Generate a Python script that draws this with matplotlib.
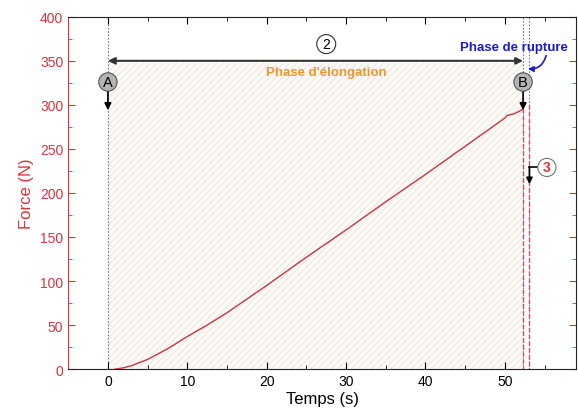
import numpy as np
import matplotlib.pyplot as plt
from matplotlib.ticker import MultipleLocator

# courbe force - temps
temps = [0.9, 2, 3, 5, 7.5, 10, 12.5, 15, 20, 25, 30, 35, 40, 45, 50, 50.3, 51.2, 52.3]
force = [0, 1.5, 4, 11, 23, 37, 50, 64, 95, 127, 158, 190, 221, 253, 285, 288, 290, 295]

t_a = 0.0      # point A
t_b = 52.3     # point B (rupture)
t_fin = 53.0   # fin de la phase de rupture
f_fleche = 350

rouge = '#d9343c'
plt.rcParams['font.family'] = ['Liberation Sans', 'DejaVu Sans']
plt.rcParams['hatch.linewidth'] = 0.7

fig = plt.figure(figsize=(5.78, 4.14), dpi=100)
ax = fig.add_axes([0.118, 0.106, 0.879, 0.851])

# zone hachuree (phase d'elongation)
ax.fill_between([t_a, t_b], 0, f_fleche - 2, facecolor='#fcfbf8', edgecolor='#ece5da',
                hatch='/////', linewidth=0, zorder=0)

# lignes verticales pointillees
for t in [t_a, t_b, t_fin]:
    ax.axvline(t, color='#777777', ls=(0, (1.5, 1.5)), lw=0.8, zorder=1)

ax.plot(temps, force, color='#cc3340', lw=1.0, zorder=3)
ax.plot([t_b, t_b], [force[-1], 0], color='#d05060', lw=1.0, ls=(0, (3, 2)), zorder=3)
ax.plot([t_fin, t_fin], [300, 0], color='#d05060', lw=1.0, ls=(0, (3, 2)), zorder=3)

# fleche double (2)
ax.annotate('', xy=(t_a, f_fleche), xytext=(t_b, f_fleche),
            arrowprops=dict(arrowstyle='<|-|>', color='#333333', lw=1.5,
                            mutation_scale=10, shrinkA=0, shrinkB=0))
ax.text(27.5, 369, '2', ha='center', va='center', fontsize=10,
        bbox=dict(boxstyle='circle,pad=0.18', fc='white', ec='#333333', lw=0.8))
ax.text(27.5, 337, "Phase d'élongation", ha='center', va='center', fontsize=9.5,
        fontweight='bold', color='#f0952a')

# points A et B
for t, lab in [(t_a, 'A'), (t_b, 'B')]:
    ax.annotate('', xy=(t, 294), xytext=(t, 318),
                arrowprops=dict(arrowstyle='-|>', color='black', lw=1.2,
                                mutation_scale=10, shrinkA=0, shrinkB=0))
    ax.text(t, 326, lab, ha='center', va='center', fontsize=10.5, zorder=5,
            bbox=dict(boxstyle='circle,pad=0.15', fc='#b5b5b5', ec='#555555', lw=0.8))

# phase de rupture
ax.text(51.2, 366, 'Phase de rupture', ha='center', va='center', fontsize=9.5,
        fontweight='bold', color='#1a1ad0')
ax.annotate('', xy=(52.9, 341), xytext=(55.2, 356),
            arrowprops=dict(arrowstyle='-|>', color='#1a1ad0', lw=1.2, mutation_scale=8,
                            connectionstyle='arc3,rad=-0.4', shrinkA=0, shrinkB=0))

# (3)
ax.plot([54.3, t_fin + 0.1], [229, 229], color='black', lw=1.2)
ax.annotate('', xy=(t_fin + 0.1, 210), xytext=(t_fin + 0.1, 229.5),
            arrowprops=dict(arrowstyle='-|>', color='black', lw=1.2,
                            mutation_scale=9, shrinkA=0, shrinkB=0))
ax.text(55.3, 229, '3', ha='center', va='center', fontsize=10, fontweight='bold',
        color='#d9343c', zorder=5,
        bbox=dict(boxstyle='circle,pad=0.15', fc='white', ec='#777777', lw=0.8))

ax.set_xlim(-5, 59)
ax.set_ylim(0, 400)
ax.xaxis.set_major_locator(MultipleLocator(10))
ax.xaxis.set_minor_locator(MultipleLocator(5))
ax.yaxis.set_major_locator(MultipleLocator(50))
ax.yaxis.set_minor_locator(MultipleLocator(25))
ax.tick_params(which='both', direction='in', top=True, right=True, labelsize=10)
ax.tick_params(which='major', length=5)
ax.tick_params(which='minor', length=3)
ax.tick_params(axis='y', which='both', colors=rouge, labelcolor=rouge)
ax.tick_params(axis='y', which='both', right=True)
for s in ['top', 'right', 'bottom']:
    ax.spines[s].set_color('#222222')
ax.spines['left'].set_color(rouge)
ax.set_xlabel('Temps (s)', fontsize=12, labelpad=2)
ax.set_ylabel('Force (N)', fontsize=12, color=rouge, labelpad=4)

fig.savefig('out.png', dpi=100)
